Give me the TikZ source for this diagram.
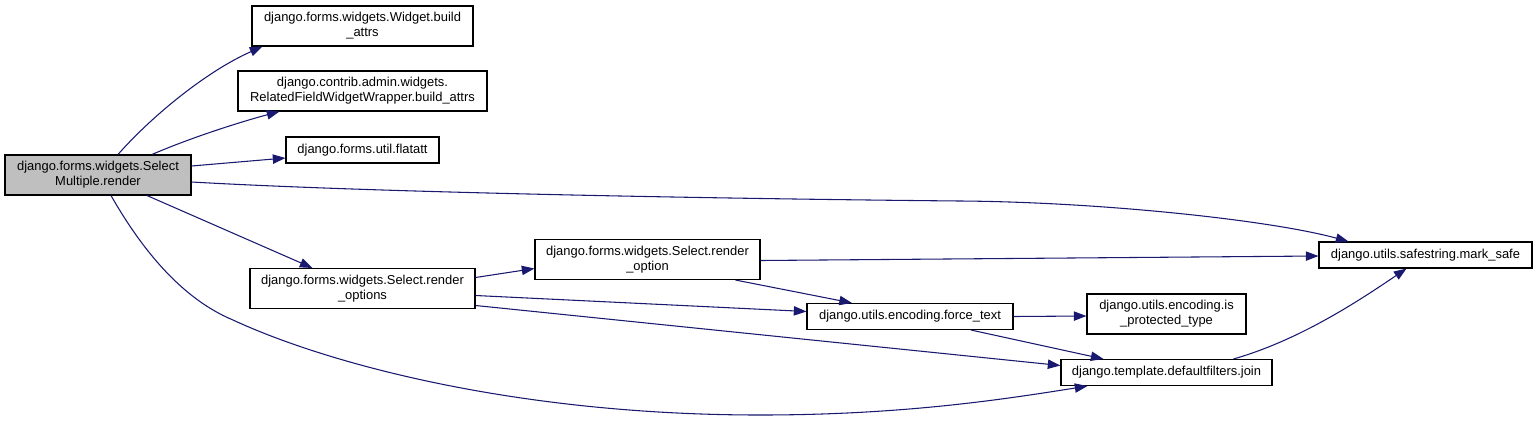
\documentclass[tikz,border=0pt]{standalone}
\usepackage{fontspec}
\setmainfont{Liberation Sans}
\usepackage{xcolor}
\usepackage{tikz}
\usetikzlibrary{arrows.meta,calc}
\definecolor{EdgeNavy}{HTML}{191970}
\definecolor{MainGray}{HTML}{BFBFBF}

\begin{document}
\begin{tikzpicture}[x=0.75pt,y=-0.75pt,
  fn/.style={draw,line width=0.8pt,fill=white,align=center,inner sep=0pt,
    minimum height=30pt,font=\fontsize{9.7}{11.25}\selectfont},
  fnone/.style={fn,minimum height=19.5pt},
  call/.style={EdgeNavy,line width=0.8pt,-{Triangle[length=9.5pt,width=7pt]}}]
  \useasboundingbox (0,0) rectangle (1537,422);
  % boxes
  \node[fn,fill=MainGray,minimum width=139.5pt] (sel) at (98,175) {django.forms.widgets.Select\\Multiple.render};
  \node[fn,minimum width=165.75pt] (wba) at (362.5,26) {django.forms.widgets.Widget.build\\\_attrs};
  \node[fn,minimum width=186.75pt] (rfw) at (362.5,91) {django.contrib.admin.widgets.\\RelatedFieldWidgetWrapper.build\_attrs};
  \node[fnone,minimum width=114.75pt] (flat) at (362.5,150) {django.forms.util.flatatt};
  \node[fn,minimum width=168.75pt] (ropts) at (362.5,288.5) {django.forms.widgets.Select.render\\\_options};
  \node[fn,minimum width=168.75pt] (ropt) at (647.5,259.5) {django.forms.widgets.Select.render\\\_option};
  \node[fnone,minimum width=159.75pt] (mark) at (1425.5,255) {django.utils.safestring.mark\_safe};
  \node[fnone,minimum width=154.5pt] (force) at (910,316.5) {django.utils.encoding.force\_text};
  \node[fn,minimum width=119.25pt] (prot) at (1166.5,314) {django.utils.encoding.is\\\_protected\_type};
  \node[fnone,minimum width=158.25pt] (join) at (1166.5,372.5) {django.template.defaultfilters.join};
  % calls
  \draw[call] ($(sel.north)+(20,0)$) .. controls (150,118) and (205,72) .. ($(wba.south west)+(11,0)$);
  \draw[call] ($(sel.north)+(54,0)$) .. controls (190,138) and (240,122) .. ($(rfw.south west)+(42,0)$);
  \draw[call] ($(sel.east)+(0,-9)$) -- ($(flat.west)+(0,8)$);
  \draw[call] ($(sel.east)+(0,7)$) .. controls (420,195) and (850,200) .. (960,201)
    .. controls (1100,202) and (1270,220) .. ($(mark.north west)+(30,0)$);
  \draw[call] ($(sel.south)+(49,0)$) -- ($(ropts.north)+(-50,0)$);
  \draw[call] ($(sel.south)+(13,0)$) .. controls (145,255) and (185,300) .. (233,320)
    .. controls (330,365) and (520,415) .. (760,415)
    .. controls (900,415) and (1000,400) .. ($(join.south west)+(27,0)$);
  \draw[call] ($(ropts.east)+(0,-11)$) -- ($(ropt.west)+(0,9)$);
  \draw[call] ($(ropts.east)+(0,7)$) -- ($(force.west)+(0,-5)$);
  \draw[call] ($(ropts.east)+(0,17)$) -- ($(join.west)+(0,-7)$);
  \draw[call] ($(ropt.east)+(0,1)$) -- ($(mark.west)+(0,1)$);
  \draw[call] ($(ropt.south)+(88,0)$) -- ($(force.north)+(-58,0)$);
  \draw[call] (force.east) -- ($(prot.west)+(0,2)$);
  \draw[call] ($(force.south)+(61,0)$) -- ($(join.north)+(-63,0)$);
  \draw[call] ($(join.north)+(67,0)$) .. controls (1300,340) and (1360,300) .. ($(mark.south)+(-19,0)$);
\end{tikzpicture}
\end{document}
